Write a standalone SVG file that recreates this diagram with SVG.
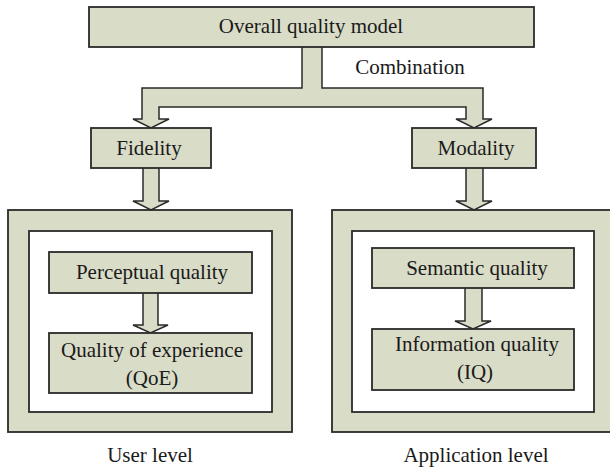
<svg xmlns="http://www.w3.org/2000/svg" width="610" height="469" viewBox="0 0 610 469">
<style>
.box{fill:#d9dcc7;stroke:#2a2a2a;stroke-width:1.8}
.hole{fill:#ffffff;stroke:#2a2a2a;stroke-width:1.8}
.arr{fill:#d9dcc7;stroke:#2a2a2a;stroke-width:1.5;stroke-linejoin:miter}
text{font-family:"Liberation Serif","Times New Roman",serif;font-size:21px;fill:#1a1a1a;text-anchor:middle}
</style>
<rect width="610" height="469" fill="#ffffff"/>
<g id="user-level">
<rect class="box" x="8" y="210" width="284" height="222"/>
<rect class="hole" x="29" y="231" width="243" height="181"/>
<text x="150" y="462">User level</text>
</g>
<g id="application-level">
<rect class="box" x="332" y="210" width="282" height="222"/>
<rect class="hole" x="352" y="231" width="242" height="181"/>
<text x="476" y="462">Application level</text>
</g>
<g id="connectors">
<path class="arr" d="M302,47 L302,88 L142,88 L142,119 L133,119 L151,128 L169,119 L159,119 L159,107 L466,107 L466,119 L456,119 L474,128 L492,119 L483,119 L483,88 L322,88 L322,47"/>
<path class="arr" d="M143,168 L143,201 L133,201 L151,210 L169,201 L159,201 L159,168"/>
<path class="arr" d="M466,168 L466,201 L456,201 L474,210 L492,201 L483,201 L483,168"/>
<path class="arr" d="M143,293 L143,325 L133,325 L150.5,333 L168,325 L158,325 L158,293"/>
<path class="arr" d="M465,288 L465,321 L455,321 L473,329 L491,321 L482,321 L482,288"/>
<text x="410" y="74">Combination</text>
</g>
<g id="overall">
<rect class="box" x="89" y="7" width="445" height="40"/>
<text x="311" y="33">Overall quality model</text>
</g>
<g id="fidelity">
<rect class="box" x="91" y="128" width="120" height="40"/>
<text x="149" y="155">Fidelity</text>
</g>
<g id="modality">
<rect class="box" x="412" y="128" width="124" height="40"/>
<text x="476" y="155">Modality</text>
</g>
<g id="perceptual">
<rect class="box" x="49" y="252" width="203" height="41"/>
<text x="152" y="279">Perceptual quality</text>
</g>
<g id="qoe">
<rect class="box" x="49" y="333" width="203" height="60"/>
<text x="152" y="357">Quality of experience</text>
<text x="152" y="385">(QoE)</text>
</g>
<g id="semantic">
<rect class="box" x="372" y="248" width="202" height="40"/>
<text x="477" y="275">Semantic quality</text>
</g>
<g id="iq">
<rect class="box" x="372" y="329" width="202" height="61"/>
<text x="477" y="351">Information quality</text>
<text x="475" y="379">(IQ)</text>
</g>
</svg>
